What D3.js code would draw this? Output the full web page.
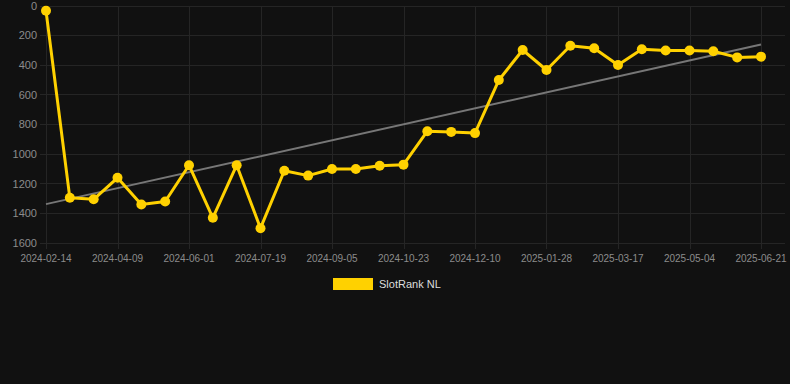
<!DOCTYPE html>
<html><head><meta charset="utf-8">
<script src="https://cdn.jsdelivr.net/npm/d3@7"></script>
<style>html,body{margin:0;padding:0;background:#111111;}svg{display:block;font-family:"Liberation Sans",Arial,sans-serif;}</style>
</head><body>
<svg id="c" width="790" height="384"></svg>
<script>
const values = [32,1295,1305,1160,1340,1320,1075,1430,1075,1500,1112,1145,1100,1100,1078,1071,845,850,858,500,297,432,268,285,398,292,300,300,306,347,342];
const tickLabels = ["2024-02-14","2024-04-09","2024-06-01","2024-07-19","2024-09-05","2024-10-23","2024-12-10","2025-01-28","2025-03-17","2025-05-04","2025-06-21"];
const yTicks = [0,200,400,600,800,1000,1200,1400,1600];
const seriesName = "SlotRank NL";

const svg = d3.select("#c");
const x = d3.scaleLinear().domain([0, values.length - 1]).range([46, 761]);
const y = d3.scaleLinear().domain([0, 1600]).range([6, 243]);

// grid
const g = svg.append("g");
g.selectAll("line.h").data(yTicks).enter().append("line")
  .attr("x1", 40).attr("x2", 785).attr("y1", d => y(d)).attr("y2", d => y(d))
  .attr("stroke", "#252525").attr("stroke-width", 1).attr("shape-rendering","crispEdges");
const tickIdx = tickLabels.map((_, i) => i * 3);
g.selectAll("line.v").data(tickIdx).enter().append("line")
  .attr("x1", d => Math.round(x(d))+0.5).attr("x2", d => Math.round(x(d))+0.5).attr("y1", 6).attr("y2", 249)
  .attr("stroke", "#252525").attr("stroke-width", 1);

// y labels
svg.append("g").selectAll("text").data(yTicks).enter().append("text")
  .attr("x", 37).attr("y", d => y(d)).attr("dy", "0.35em").attr("text-anchor", "end")
  .attr("fill", "#8c8c8c").attr("font-size", 11).text(d => d);
// x labels
svg.append("g").selectAll("text").data(tickLabels).enter().append("text")
  .attr("x", (d, i) => x(tickIdx[i])).attr("y", 262).attr("text-anchor", "middle")
  .attr("fill", "#8c8c8c").attr("font-size", 10).text(d => d);

// trend line (least squares)
const n = values.length;
const xm = d3.mean(values, (d, i) => i), ym = d3.mean(values);
let num = 0, den = 0;
values.forEach((v, i) => { num += (i - xm) * (v - ym); den += (i - xm) ** 2; });
const slope = num / den, inter = ym - slope * xm;
svg.append("line")
  .attr("x1", x(0)).attr("y1", y(inter)).attr("x2", x(n - 1)).attr("y2", y(inter + slope * (n - 1)))
  .attr("stroke", "#777777").attr("stroke-width", 2);

// series
const line = d3.line().x((d, i) => x(i)).y(d => y(d));
svg.append("path").datum(values).attr("d", line).attr("fill", "none")
  .attr("stroke", "#FFD100").attr("stroke-width", 3).attr("stroke-linejoin", "round");
svg.append("g").selectAll("circle").data(values).enter().append("circle")
  .attr("cx", (d, i) => x(i)).attr("cy", d => y(d)).attr("r", 5).attr("fill", "#FFD100");

// legend
svg.append("rect").attr("x", 333).attr("y", 278).attr("width", 40).attr("height", 12).attr("fill", "#FFD100");
svg.append("text").attr("x", 379).attr("y", 284).attr("dy", "0.35em").attr("fill", "#dddddd")
  .attr("font-size", 11).text(seriesName);
</script>
</body></html>
